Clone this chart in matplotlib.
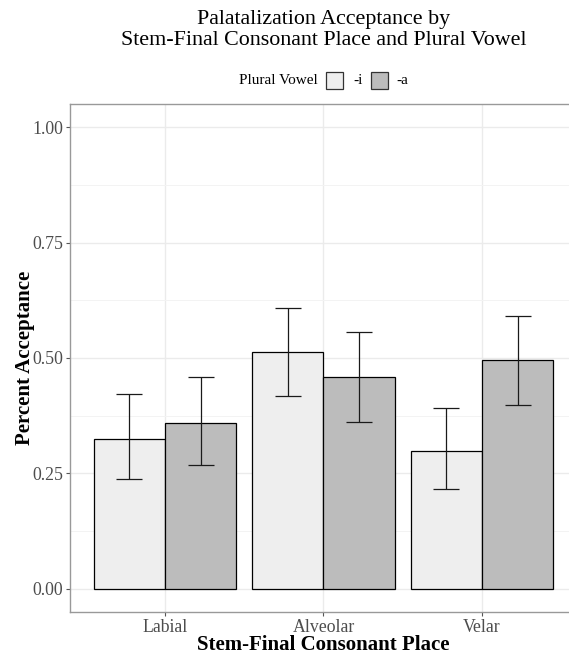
import numpy as np
import matplotlib
matplotlib.use("Agg")
import matplotlib.pyplot as plt
from matplotlib.patches import Rectangle

plt.rcParams['font.family'] = ['Liberation Serif', 'DejaVu Serif']

places = ["Labial", "Alveolar", "Velar"]
vowels = ["-i", "-a"]
fills = ["#eeeeee", "#bcbcbc"]

# mean and 95% CI
mean_i = [0.324, 0.514, 0.298]
low_i = [0.239, 0.418, 0.216]
high_i = [0.422, 0.609, 0.392]
mean_a = [0.359, 0.458, 0.496]
low_a = [0.269, 0.362, 0.399]
high_a = [0.458, 0.557, 0.592]

means = [mean_i, mean_a]
lows = [low_i, low_a]
highs = [high_i, high_a]

W, H = 569, 655
fig = plt.figure(figsize=(W/100, H/100), dpi=100)
ax = fig.add_axes([70/W, 1-612/H, (577-70)/W, (612-104)/H])

x = np.arange(1, len(places)+1)
w = 0.45
for k in range(2):
    pos = x + (k - 0.5) * w
    m = np.array(means[k])
    ax.bar(pos, m, width=w, color=fills[k], edgecolor='black', linewidth=0.9, zorder=3)
    err = [m - np.array(lows[k]), np.array(highs[k]) - m]
    ax.errorbar(pos, m, yerr=err, fmt='none', ecolor='#1a1a1a', elinewidth=0.9,
                capsize=9.5, capthick=0.9, zorder=4)

ax.set_xlim(0.4, 3.6)
ax.set_ylim(-0.05, 1.05)
ax.set_xticks(x)
ax.set_xticklabels(places)
ax.set_yticks([0, 0.25, 0.5, 0.75, 1.0])
ax.set_yticklabels(["0.00", "0.25", "0.50", "0.75", "1.00"])
ax.set_yticks([0.125, 0.375, 0.625, 0.875], minor=True)
ax.grid(True, which='major', color='#ebebeb', linewidth=1.0, zorder=0)
ax.grid(True, which='minor', axis='y', color='#f3f3f3', linewidth=0.7, zorder=0)
ax.set_axisbelow(True)
for s in ax.spines.values():
    s.set_color('#999999')
    s.set_linewidth(1.0)
ax.tick_params(axis='both', which='major', length=3, color='#555555',
               labelsize=12.8, labelcolor='#4d4d4d', pad=2)
ax.tick_params(axis='y', which='minor', length=0)

ax.set_xlabel("Stem-Final Consonant Place", fontsize=15, fontweight='bold', va='center')
ax.xaxis.set_label_coords(0.5, (612-645)/508)
ax.set_ylabel("Percent Acceptance", fontsize=15, fontweight='bold', va='center')
ax.yaxis.set_label_coords((25-70)/507, 0.5)

cx = (70 + 577) / 2 / W
fig.text(cx, 1 - 30/H, "Palatalization Acceptance by\nStem-Final Consonant Place and Plural Vowel",
         ha='center', va='center', fontsize=15.8, linespacing=1.2)

# legend drawn by hand to keep ggplot-style layout
ly = 80
fig.text(239/W, 1 - ly/H, "Plural Vowel", ha='left', va='center', fontsize=11)
key_x = [326, 371]
lab_x = [353, 396]
for k in range(2):
    fig.patches.append(Rectangle((key_x[k]/W, 1 - (ly+8.5)/H), 17/W, 17/H,
                                 transform=fig.transFigure, facecolor=fills[k],
                                 edgecolor='#333333', linewidth=0.9))
    fig.text(lab_x[k]/W, 1 - ly/H, vowels[k], ha='left', va='center', fontsize=11)

fig.savefig("out.png", dpi=100)
